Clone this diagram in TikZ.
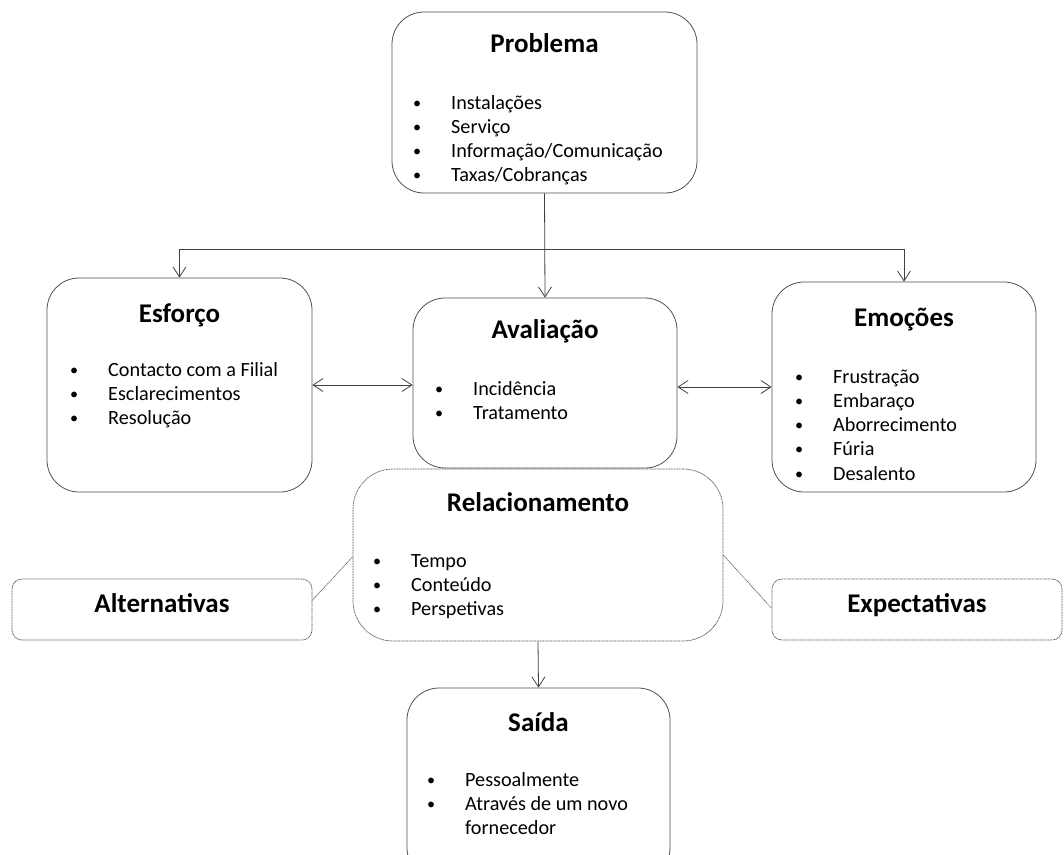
\documentclass[tikz,border=0pt]{standalone}
\usepackage{fontspec}
\setmainfont{Carlito}
\usetikzlibrary{arrows.meta,calc}

\definecolor{edge}{HTML}{505050}
\definecolor{wire}{HTML}{404040}

% title and item lists inside the boxes
\newcommand{\boxtitle}[1]{\fontsize{27}{32}\selectfont\bfseries #1}
\newcommand{\itemlist}[1]{\fontsize{20.2}{24.3}\selectfont
  \begin{tabular}[t]{@{}p{39pt}@{}l@{}}#1\end{tabular}}
\newcommand{\dotmark}{\hspace*{1pt}\raisebox{1pt}{\scalebox{0.8}{\textbullet}}}

\tikzset{
  x=1pt, y=-1pt,
  panel/.style={draw=edge, line width=0.8pt, rounded corners=32pt, inner sep=0pt},
  dpanel/.style={draw=edge, line width=0.7pt, dash pattern=on 1pt off 0.6pt, inner sep=0pt},
  ttl/.style={anchor=base, inner sep=0pt},
  lst/.style={anchor=base west, inner sep=0pt},
  arr/.style={draw=wire, line width=0.8pt, -{Straight Barb[length=10pt,width=13pt]}},
  darr/.style={draw=wire, line width=0.8pt, {Straight Barb[length=10pt,width=13pt]}-{Straight Barb[length=10pt,width=13pt]}},
  bus/.style={draw=wire, line width=0.8pt},
  dline/.style={draw=edge, line width=0.6pt, dash pattern=on 1pt off 0.6pt},
}

\begin{document}
\begin{tikzpicture}
\useasboundingbox (0,0) rectangle (1064,854);
\clip (0,0) rectangle (1064,854);

% boxes
\node[panel, minimum width=305pt, minimum height=181pt] (prob) at (544.5,102.5) {};
\node[panel, minimum width=265pt, minimum height=214pt] (esf) at (179.5,385) {};
\node[panel, minimum width=264pt, minimum height=170pt] (aval) at (545,383) {};
\node[panel, minimum width=264pt, minimum height=210pt] (emo) at (904,387) {};
\node[dpanel, rounded corners=40pt, minimum width=370pt, minimum height=172pt] (rel) at (538,555) {};
\node[dpanel, rounded corners=10pt, minimum width=300pt, minimum height=61pt] (alt) at (162,609.5) {};
\node[dpanel, rounded corners=10pt, minimum width=290pt, minimum height=61pt] (exp) at (917,609.5) {};
\node[panel, minimum width=263pt, minimum height=192pt] (sai) at (538.5,784) {};

% texts
\node[ttl] (probT) at (544.5,52) {\boxtitle{Problema}};
\node[lst] (probL) at (412,109) {\itemlist{\dotmark & Instalações\\ \dotmark & Serviço\\ \dotmark & Informação/Comunicação\\ \dotmark & Taxas/Cobranças}};

\node[ttl] (esfT) at (179.5,322) {\boxtitle{Esforço}};
\node[lst] (esfL) at (69,376) {\itemlist{\dotmark & Contacto com a Filial\\ \dotmark & Esclarecimentos\\ \dotmark & Resolução}};

\node[ttl] (avalT) at (545,338) {\boxtitle{Avaliação}};
\node[lst] (avalL) at (434,395) {\itemlist{\dotmark & Incidência\\ \dotmark & Tratamento}};

\node[ttl] (emoT) at (904,326) {\boxtitle{Emoções}};
\node[lst] (emoL) at (794,383) {\itemlist{\dotmark & Frustração\\ \dotmark & Embaraço\\ \dotmark & Aborrecimento\\ \dotmark & Fúria\\ \dotmark & Desalento}};

\node[ttl] (relT) at (538,511) {\boxtitle{Relacionamento}};
\node[lst] (relL) at (372,567) {\itemlist{\dotmark & Tempo\\ \dotmark & Conteúdo\\ \dotmark & Perspetivas}};

\node[ttl] (altT) at (162,612) {\boxtitle{Alternativas}};
\node[ttl] (expT) at (917,612) {\boxtitle{Expectativas}};

\node[ttl] (saiT) at (538.5,731) {\boxtitle{Saída}};
\node[lst] (saiL) at (426,786) {\itemlist{\dotmark & Pessoalmente\\ \dotmark & Através de um novo\\ & fornecedor}};

% connectors
\coordinate (split) at (prob.south |- 0,249);
\draw[arr] (prob.south) -- (aval.north);
\draw[bus] (esf.north |- split) -- (emo.north |- split);
\draw[arr] (esf.north |- split) -- (esf.north);
\draw[arr] (emo.north |- split) -- (emo.north);
\draw[darr] (esf.east) -- (aval.west |- esf.east);
\draw[darr] (aval.east |- emo.west) -- (emo.west);
\draw[arr] (rel.south) -- (sai.north);
\draw[dline] ($(alt.north east)!0.35!(alt.south east)$) -- ($(rel.north west)!0.51!(rel.south west)$);
\draw[dline] ($(rel.north east)!0.5!(rel.south east)$) -- ($(exp.north west)!0.48!(exp.south west)$);
\end{tikzpicture}
\end{document}
